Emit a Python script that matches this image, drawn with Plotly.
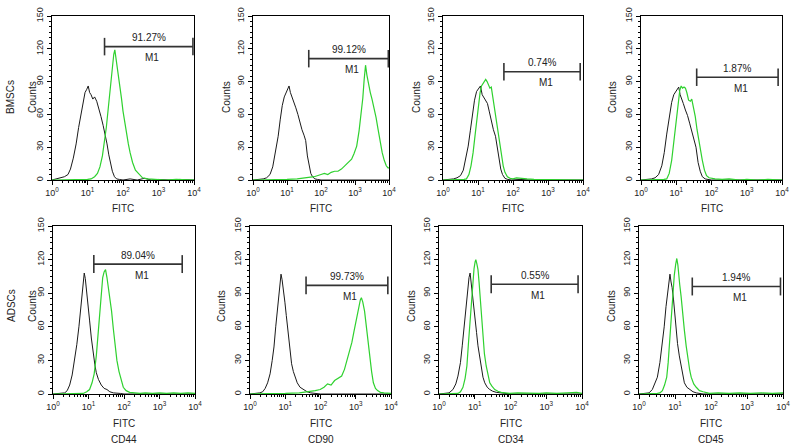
import plotly.graph_objects as go

W, H = 796, 447

# ---------------- data (x in log10 FITC units, y in counts) ----------------
cell_types = ["BMSCs", "ADSCs"]
markers = ["CD44", "CD90", "CD34", "CD45"]
percentages = [["91.27%", "99.12%", "0.74%", "1.87%"],
               ["89.04%", "99.73%", "0.55%", "1.94%"]]
gate_lo = [[1.48, 1.64, 1.74, 1.58], [1.15, 1.59, 1.46, 1.48]]
gate_hi = [[3.97, 3.98, 3.92, 3.89], [3.64, 3.91, 3.89, 3.93]]
gate_y = [[122, 111, 99, 94], [116, 97, 98, 96]]

y_ticks = [0, 30, 60, 90, 120, 150]
x_tick_vals = [1, 10, 100, 1000, 10000]
x_tick_text = ["10<sup>0</sup>", "10<sup>1</sup>", "10<sup>2</sup>", "10<sup>3</sup>", "10<sup>4</sup>"]

# BMSCs CD44
bm_cd44_iso_x = [0.0,0.15,0.25,0.35,0.45,0.52,0.6,0.68,0.75,0.82,0.88,0.93,0.98,1.02,1.06,1.1,1.15,1.2,1.26,1.32,1.38,1.44,1.5,1.55,1.6,1.65,1.7,1.76,1.82,1.9,2.0,2.2,2.4,2.6,2.8,3.0,3.3,3.6,4.0]
bm_cd44_iso_y = [0,1,2,3,5,10,20,33,48,62,72,80,83,86,80,78,74,76,72,66,58,50,42,33,23,14,8,3,1,0.5,0,1,0,1.5,0,0.5,0,0.5,0]
bm_cd44_x = [0.0,0.5,1.0,1.1,1.2,1.28,1.35,1.42,1.48,1.53,1.58,1.63,1.67,1.71,1.74,1.77,1.8,1.84,1.88,1.92,1.96,2.0,2.05,2.1,2.15,2.2,2.27,2.35,2.45,2.55,2.7,2.9,3.2,3.5,3.8,4.0]
bm_cd44_y = [0,0,0.5,1,3,6,12,22,34,48,64,80,95,106,115,119,112,106,96,86,74,63,52,42,33,25,16,9,5,2,1,0.5,0,0.5,0,0]
# BMSCs CD90
bm_cd90_iso_x = [0.0,0.2,0.3,0.4,0.5,0.58,0.66,0.74,0.8,0.86,0.92,0.97,1.02,1.06,1.1,1.15,1.2,1.26,1.32,1.38,1.44,1.5,1.55,1.6,1.65,1.7,1.75,1.82,1.9,2.0,2.5,3.0,3.5,4.0]
bm_cd90_iso_y = [0,0.5,1,2,5,12,25,40,55,68,76,80,83,86,80,76,72,66,60,52,46,41,36,22,12,6,3,1,0.5,0,0,0,0,0]
bm_cd90_x = [0.0,0.5,1.0,1.3,1.6,1.8,2.0,2.1,2.2,2.3,2.4,2.5,2.6,2.7,2.8,2.9,2.97,3.05,3.12,3.18,3.23,3.27,3.31,3.35,3.4,3.45,3.5,3.56,3.62,3.68,3.74,3.8,3.86,3.92,3.97,4.0]
bm_cd90_y = [0,0,0.5,1,2,3,5,6,5,7,8,8,10,13,16,19,24,31,45,60,75,92,105,96,86,80,74,66,57,46,35,25,18,13,11,11]
# BMSCs CD34
bm_cd34_iso_x = [0.0,0.2,0.3,0.4,0.5,0.58,0.66,0.72,0.78,0.84,0.9,0.96,1.02,1.07,1.12,1.17,1.22,1.27,1.32,1.38,1.44,1.5,1.55,1.6,1.65,1.7,1.77,1.85,1.95,2.2,2.5,3.0,3.5,4.0]
bm_cd34_iso_y = [0,0.5,1,2,4,9,20,31,45,60,73,81,84,86,78,75,72,70,63,54,46,40,30,19,10,5,1.5,0.5,0,0.5,0,0,0,0]
bm_cd34_x = [0.0,0.5,0.6,0.67,0.74,0.8,0.86,0.92,0.97,1.02,1.06,1.1,1.14,1.18,1.22,1.26,1.3,1.34,1.38,1.42,1.47,1.52,1.57,1.62,1.67,1.72,1.77,1.84,1.92,2.0,2.1,2.2,2.4,2.6,2.8,3.0,3.3,3.6,4.0]
bm_cd34_y = [0,0,0.5,1,5,13,25,42,56,70,80,86,88,91,92,90,86,84,85,76,66,54,44,32,22,13,7,3,1.5,1,2,1.5,1,0.5,0.5,0,0.5,0,0]
# BMSCs CD45
bm_cd45_iso_x = [0.0,0.2,0.3,0.4,0.5,0.59,0.66,0.73,0.8,0.87,0.93,0.98,1.03,1.07,1.11,1.16,1.2,1.26,1.32,1.38,1.44,1.5,1.56,1.62,1.68,1.74,1.82,1.9,2.0,2.5,3.0,3.5,4.0]
bm_cd45_iso_y = [0,0.5,1,2,5,13,25,42,58,71,78,81,83,85,78,74,70,64,59,52,45,38,30,16,8,3,1,0.5,0,0,0,0,0]
bm_cd45_x = [0.0,0.5,0.65,0.73,0.8,0.87,0.92,0.97,1.02,1.06,1.1,1.14,1.18,1.22,1.26,1.3,1.35,1.4,1.44,1.49,1.54,1.59,1.64,1.69,1.74,1.8,1.86,1.93,2.0,2.1,2.3,2.5,2.8,3.0,3.3,3.6,4.0]
bm_cd45_y = [0,0,0.5,1,6,18,32,49,64,76,82,86,84,85,84,80,73,72,74,66,58,46,36,26,18,9,4,2,1.5,1,0.5,1,0,0.5,0,0.5,0]

# ADSCs CD44
ad_cd44_iso_x = [0.0,0.2,0.33,0.4,0.47,0.54,0.61,0.67,0.73,0.78,0.83,0.86,0.88,0.91,0.95,0.99,1.03,1.08,1.13,1.18,1.22,1.28,1.36,1.44,1.52,1.6,1.7,1.8,1.9,2.0,2.5,3.0,3.5,4.0]
ad_cd44_iso_y = [0,0.5,1,3,8,17,30,44,60,76,91,102,108,103,92,78,66,50,36,26,19,13,8,5,4,2,1,1,0.5,0,0,0,0,0]
ad_cd44_x = [0.0,0.6,0.85,0.95,1.03,1.1,1.16,1.22,1.27,1.32,1.36,1.4,1.44,1.48,1.52,1.56,1.6,1.65,1.7,1.75,1.8,1.86,1.92,1.98,2.06,2.16,2.3,2.45,2.6,2.8,3.0,3.2,3.4,3.6,3.8,4.0]
ad_cd44_y = [0,0,0.5,2,4,10,18,34,55,78,95,104,109,111,104,96,86,74,58,42,30,20,12,6,3,1.5,1,0.5,1,0.5,1,0.5,1,0.5,1,0.5]
# ADSCs CD90
ad_cd90_iso_x = [0.0,0.2,0.28,0.36,0.43,0.5,0.57,0.63,0.68,0.73,0.78,0.82,0.85,0.88,0.91,0.95,0.99,1.03,1.08,1.13,1.18,1.23,1.28,1.34,1.42,1.52,1.62,1.72,1.85,2.0,2.5,3.0,3.5,4.0]
ad_cd90_iso_y = [0,0.5,1,2,5,10,18,30,42,60,78,90,100,107,102,94,82,70,56,40,27,20,15,10,6,4,2,1,0.5,0,0,0,0,0]
ad_cd90_x = [0.0,0.5,1.0,1.4,1.71,1.85,1.99,2.1,2.2,2.3,2.4,2.5,2.6,2.68,2.75,2.82,2.89,2.95,3.0,3.05,3.09,3.13,3.16,3.2,3.25,3.3,3.35,3.4,3.45,3.5,3.56,3.62,3.7,3.8,3.9,4.0]
ad_cd90_y = [0,0,0.5,1,2,3,4,6,9,8,12,14,16,22,30,38,46,56,64,72,79,84,86,82,74,60,46,32,20,10,5,3,1.5,1,0.5,0.5]
# ADSCs CD34
ad_cd34_iso_x = [0.0,0.2,0.28,0.39,0.47,0.53,0.6,0.65,0.7,0.76,0.8,0.84,0.87,0.9,0.93,0.97,1.01,1.05,1.09,1.14,1.18,1.23,1.28,1.35,1.42,1.5,1.6,1.7,1.8,2.0,2.5,3.0,3.5,4.0]
ad_cd34_iso_y = [0,0.5,1,4,9,16,28,43,60,78,92,104,108,100,90,78,67,55,43,32,22,15,10,6,4,2.5,1.5,1,0.5,0,0,0,0,0]
ad_cd34_x = [0.0,0.45,0.53,0.6,0.67,0.73,0.78,0.83,0.88,0.92,0.95,0.98,1.01,1.03,1.06,1.09,1.12,1.16,1.2,1.23,1.27,1.32,1.37,1.42,1.48,1.56,1.65,1.74,1.85,1.98,2.2,2.5,2.8,3.0,3.3,3.6,3.85,4.0]
ad_cd34_y = [0,0,0.5,2,6,14,25,48,72,90,103,112,118,120,116,111,100,84,66,49,36,25,16,10,7,4,2.5,1.5,1,0.5,1,0.5,0.5,1,0.5,1,1.5,0.5]
# ADSCs CD45
ad_cd45_iso_x = [0.0,0.2,0.28,0.37,0.44,0.51,0.58,0.64,0.7,0.75,0.8,0.84,0.86,0.89,0.92,0.96,0.99,1.03,1.07,1.12,1.17,1.22,1.26,1.33,1.4,1.5,1.59,1.7,1.78,2.0,2.5,3.0,3.5,4.0]
ad_cd45_iso_y = [0,0.5,1,4,9,15,28,42,60,78,94,104,107,100,95,84,72,58,45,34,24,15,10,6,4,2,1,0.5,0,0,0,0,0,0]
ad_cd45_x = [0.0,0.45,0.51,0.58,0.65,0.71,0.77,0.81,0.84,0.88,0.92,0.95,0.98,1.02,1.05,1.08,1.1,1.13,1.17,1.21,1.26,1.31,1.36,1.41,1.45,1.52,1.59,1.68,1.78,1.88,1.96,2.2,2.5,2.8,3.1,3.4,3.7,4.0]
ad_cd45_y = [0,0,0.5,1,3,8,15,28,42,62,81,95,106,116,121,115,110,98,87,72,57,43,30,21,15,9,6,3,2,1,0.5,1,0.5,1,0.5,1,0.5,1]

iso_curves = [[(bm_cd44_iso_x, bm_cd44_iso_y), (bm_cd90_iso_x, bm_cd90_iso_y), (bm_cd34_iso_x, bm_cd34_iso_y), (bm_cd45_iso_x, bm_cd45_iso_y)],
              [(ad_cd44_iso_x, ad_cd44_iso_y), (ad_cd90_iso_x, ad_cd90_iso_y), (ad_cd34_iso_x, ad_cd34_iso_y), (ad_cd45_iso_x, ad_cd45_iso_y)]]
stain_curves = [[(bm_cd44_x, bm_cd44_y), (bm_cd90_x, bm_cd90_y), (bm_cd34_x, bm_cd34_y), (bm_cd45_x, bm_cd45_y)],
                [(ad_cd44_x, ad_cd44_y), (ad_cd90_x, ad_cd90_y), (ad_cd34_x, ad_cd34_y), (ad_cd45_x, ad_cd45_y)]]

# ---------------- layout geometry (pixels) ----------------
panel_px = [[(52, 194), (253, 389), (443, 583), (641, 782)],
            [(53, 195), (250, 391), (439, 582), (639, 783)]]
row_px = [(16, 180), (226, 394)]
counts_x_px = [[33, 227, 417, 613], [32, 221, 411, 611]]
row_label_x_px = 11
counts_y_px = [97, 306]
fitc_y_px = [209, 423]
cd_y_px = 439

GREEN = "#2fd12f"
BLACK = "#1a1a1a"
FONT = "Liberation Sans, Arial, sans-serif"
CAP = 8
TXT = dict(size=10, color="#222", family=FONT)

minor_x = [m * 10 ** d for d in range(4) for m in range(2, 10)]

fig = go.Figure()
annotations = []
layout_axes = {}


def paper_text(xp, yp, text, angle=0):
    return dict(x=xp / W, y=1 - yp / H, xref="paper", yref="paper", text=text,
                textangle=angle, showarrow=False, xanchor="center", yanchor="middle",
                font=TXT)


for r in range(2):
    for c in range(4):
        idx = r * 4 + c + 1
        xa = "x" if idx == 1 else f"x{idx}"
        ya = "y" if idx == 1 else f"y{idx}"
        xl, xr = panel_px[r][c]
        yt, yb = row_px[r]

        ix, iy = iso_curves[r][c]
        sx, sy = stain_curves[r][c]
        fig.add_trace(go.Scatter(x=[10 ** v for v in ix], y=iy, mode="lines",
                                 line=dict(color=BLACK, width=1), xaxis=xa, yaxis=ya,
                                 showlegend=False, hoverinfo="skip"))
        fig.add_trace(go.Scatter(x=[10 ** v for v in sx], y=sy, mode="lines",
                                 line=dict(color=GREEN, width=1.2), xaxis=xa, yaxis=ya,
                                 showlegend=False, hoverinfo="skip"))

        g0, g1, gy = 10 ** gate_lo[r][c], 10 ** gate_hi[r][c], gate_y[r][c]
        fig.add_trace(go.Scatter(x=[g0, g1, None, g0, g0, None, g1, g1],
                                 y=[gy, gy, None, gy - CAP, gy + CAP, None, gy - CAP, gy + CAP],
                                 mode="lines", line=dict(color="#333333", width=1.6),
                                 xaxis=xa, yaxis=ya, showlegend=False, hoverinfo="skip"))
        mid = (gate_lo[r][c] + gate_hi[r][c]) / 2
        annotations.append(dict(x=mid, y=gy, xref=xa, yref=ya, text=percentages[r][c],
                                showarrow=False, yshift=9, xanchor="center", yanchor="middle",
                                font=TXT))
        annotations.append(dict(x=mid + 0.1, y=gy, xref=xa, yref=ya, text="M1",
                                showarrow=False, yshift=-11, xanchor="center", yanchor="middle",
                                font=TXT))

        axis_common = dict(showline=True, linecolor="black", linewidth=1, mirror=True,
                           ticks="outside", ticklen=4, tickcolor="black", tickwidth=1,
                           showgrid=False, zeroline=False, automargin=False,
                           tickfont=dict(size=9, color="#222", family=FONT))
        layout_axes["xaxis" if idx == 1 else f"xaxis{idx}"] = dict(
            axis_common, type="log", range=[0, 4], domain=[xl / W, xr / W],
            anchor=ya, tickmode="array", tickvals=x_tick_vals, ticktext=x_tick_text,
            minor=dict(tickmode="array", tickvals=minor_x, ticks="outside", ticklen=2,
                       tickcolor="black", tickwidth=1))
        layout_axes["yaxis" if idx == 1 else f"yaxis{idx}"] = dict(
            axis_common, range=[0, 150], domain=[1 - yb / H, 1 - yt / H],
            anchor=xa, tickmode="array", tickvals=y_ticks, tickangle=-90,
            minor=dict(dtick=5, ticks="outside", ticklen=2, tickcolor="black", tickwidth=1))

        cxp = (xl + xr) / 2
        annotations.append(paper_text(cxp, fitc_y_px[r], "FITC"))
        if r == 1:
            annotations.append(paper_text(cxp, cd_y_px, markers[c]))
        annotations.append(paper_text(counts_x_px[r][c], counts_y_px[r], "Counts", -90))
    annotations.append(paper_text(row_label_x_px, counts_y_px[r], cell_types[r], -90))

fig.update_layout(width=W, height=H, margin=dict(l=0, r=0, t=0, b=0, autoexpand=False),
                  paper_bgcolor="white", plot_bgcolor="white",
                  annotations=annotations, **layout_axes)

fig.write_html("out.html", config={"displayModeBar": False},
               post_script="document.body.style.margin='0px';document.body.style.padding='0px';")
